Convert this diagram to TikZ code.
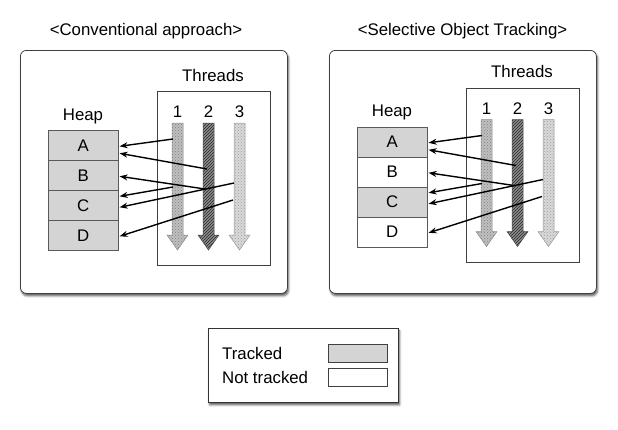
\documentclass[tikz,border=0pt]{standalone}
\usepackage{fontspec}
\setmainfont{Liberation Sans}
\usetikzlibrary{patterns,arrows.meta,shadows.blur,calc}
\tikzset{
  panelbox/.style={draw=black!75, line width=0.8pt, rounded corners=6pt, fill=white,
    blur shadow={shadow xshift=1.2pt, shadow yshift=-2.5pt, shadow blur steps=4, shadow opacity=65},
    inner sep=0pt, anchor=north west},
  legendbox/.style={draw=black!80, line width=0.8pt, fill=white,
    blur shadow={shadow xshift=1.2pt, shadow yshift=-2.5pt, shadow blur steps=4, shadow opacity=65},
    inner sep=0pt, anchor=north west, minimum width=190pt, minimum height=74pt},
  threadbox/.style={draw=black!75, line width=0.6pt, fill=white, inner sep=0pt, anchor=north west,
    minimum width=113pt, minimum height=174pt},
  cell/.style={draw=black!65, line width=0.6pt, inner sep=0pt, anchor=north west,
    minimum width=70pt, minimum height=30pt},
  tracked/.style={fill=black!17},
  untracked/.style={fill=white},
  lbl/.style={inner sep=0pt},
  thrA/.style={draw=black!45, line width=0.5pt, preaction={fill=black!25}, pattern=crosshatch dots, pattern color=black!50},
  thrB/.style={draw=black!70, line width=0.5pt, preaction={fill=black!45}, pattern=north east lines, pattern color=black!85},
  thrC/.style={draw=black!40, line width=0.5pt, preaction={fill=black!15}, pattern=crosshatch dots, pattern color=black!38},
  conn/.style={draw=black, line width=1.4pt, -{Stealth[length=8pt,width=6pt]}},
}
\newcommand\threadarrow[3]{%
  \path[#3] (#1-5.5,#2) -- (#1-5.5,235) -- (#1-10.5,235) -- (#1,250) -- (#1+10.5,235)
    -- (#1+5.5,235) -- (#1+5.5,#2) -- cycle;}
\newcommand\heappanel[6]{%
\begin{scope}[shift={#2}, name prefix=#1-]
  \node[threadbox] (T) at (157,91) {};
  \node[lbl] (Tl) at (213,75) {Threads};
  \node[lbl] (Hl) at (83,116) {Heap};
  \node[cell,#3] (A) at (48,130) {A};
  \node[cell,#4] (B) at (48,160) {B};
  \node[cell,#5] (C) at (48,190) {C};
  \node[cell,#6] (D) at (48,220) {D};
  \node[lbl] (n1) at (177.5,112) {1};
  \node[lbl] (n2) at (208.5,112) {2};
  \node[lbl] (n3) at (239.5,112) {3};
  \threadarrow{177.5}{123}{thrA}
  \threadarrow{208.5}{123}{thrB}
  \threadarrow{239.5}{123}{thrC}
  \coordinate (s1) at (173,139);
  \coordinate (s2) at (207,169);
  \coordinate (s3) at (205,189);
  \coordinate (s4) at (173,187);
  \coordinate (s5) at (234,183);
  \coordinate (s6) at (233,200);
  \draw[conn] (s1) -- ($(A.east)+(1,1)$);
  \draw[conn] (s2) -- ($(A.east)+(1,8)$);
  \draw[conn] (s3) -- ($(B.east)+(1,1)$);
  \draw[conn] (s4) -- ($(C.east)+(1,-9)$);
  \draw[conn] (s5) -- ($(C.east)+(1,2)$);
  \draw[conn] (s6) -- ($(D.east)+(1,1)$);
\end{scope}}
\begin{document}
\begin{tikzpicture}[x=1pt,y=-1pt,font=\fontsize{16.8}{19}\selectfont]
  \useasboundingbox (0,0) rectangle (618,429);
  \node[lbl] (t1) at (146,31) {<Conventional approach>};
  \node[lbl] (t2) at (462.5,31) {<Selective Object Tracking>};
  \node[panelbox, minimum width=267pt, minimum height=243pt] (P1) at (20,50) {};
  \node[panelbox, minimum width=267pt, minimum height=243pt] (P2) at (329,50) {};
  \heappanel{L}{(0,0)}{tracked}{tracked}{tracked}{tracked}
  \heappanel{R}{(309,-3.5)}{tracked}{untracked}{tracked}{untracked}
  \node[legendbox] (leg) at (208,328) {};
  \node[lbl, anchor=west] (lt) at (222,353) {Tracked};
  \node[lbl, anchor=west] (lu) at (222,377) {Not tracked};
  \node[draw=black!75, line width=0.7pt, tracked, inner sep=0pt, minimum width=59pt, minimum height=18pt, anchor=north west] (sw1) at (328,344) {};
  \node[draw=black!75, line width=0.7pt, untracked, inner sep=0pt, minimum width=59pt, minimum height=18pt, anchor=north west] (sw2) at (328,368) {};
\end{tikzpicture}
\end{document}
